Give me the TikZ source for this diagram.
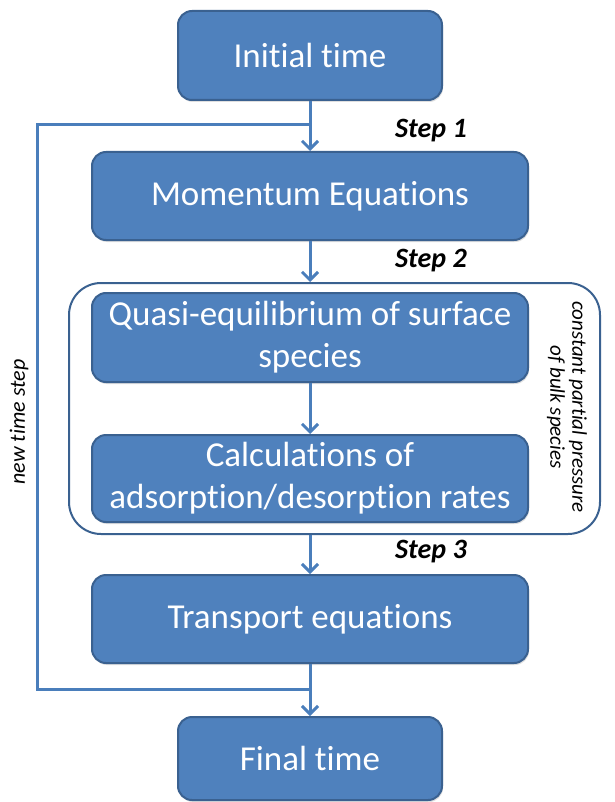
\documentclass[tikz,border=0pt]{standalone}
\usepackage{fontspec}
\setmainfont[Ligatures=CommonOff]{Carlito}
\usetikzlibrary{arrows.meta,shadows}
\definecolor{boxfill}{HTML}{4F81BD}
\definecolor{boxline}{HTML}{3A6190}
\definecolor{wire}{HTML}{4A7EBB}
\tikzset{
  flowbox/.style={draw=boxline, line width=2pt, fill=boxfill, rounded corners=14pt,
    text=white, inner sep=0pt, align=center,
    font=\fontsize{35}{42}\selectfont,
    drop shadow={opacity=0.25, shadow xshift=1pt, shadow yshift=-2pt}},
  groupbox/.style={draw=boxline, line width=2pt, rounded corners=32pt, inner sep=0pt},
  link/.style={draw=wire, line width=3pt},
  flowarrow/.style={link, -{Straight Barb[length=8pt,width=16pt,line width=3pt]}},
  steplabel/.style={font=\fontsize{28}{30}\selectfont\bfseries\itshape, anchor=base west, inner sep=0pt},
  sidenote/.style={font=\fontsize{21}{22}\selectfont\itshape, align=center, inner sep=0pt}
}
\begin{document}
\begin{tikzpicture}[x=1pt, y=-1pt]
  \useasboundingbox (0,0) rectangle (614,802);

  % main flow boxes
  \node[flowbox, minimum width=264pt, minimum height=89pt] (init) at (310,55.5) {Initial time};
  \node[flowbox, minimum width=436pt, minimum height=88pt] (mom) at (310,196) {Momentum Equations};
  \node[groupbox, minimum width=531pt, minimum height=251pt] (group) at (334.5,408.5) {};
  \node[flowbox, minimum width=436pt, minimum height=89pt] (quasi) at (310,337.5) {Quasi-equilibrium of surface\\species};
  \node[flowbox, minimum width=436pt, minimum height=87pt] (calc) at (310,478.5) {Calculations of\\adsorption/desorption rates};
  \node[flowbox, minimum width=436pt, minimum height=88pt] (trans) at (310,619) {Transport equations};
  \node[flowbox, minimum width=264pt, minimum height=83pt] (final) at (310,758.5) {Final time};

  % forward connectors
  \draw[flowarrow] (init.south) -- (mom.north);
  \draw[flowarrow] (mom.south) -- (group.north -| mom.south);
  \draw[flowarrow] (quasi.south) -- (calc.north);
  \draw[flowarrow] (group.south -| trans.north) -- (trans.north);
  \draw[flowarrow] (trans.south) -- (final.north);

  % feedback loop for the next time step
  \coordinate (jb) at (310,689);
  \coordinate (jt) at (310,125);
  \coordinate (loopB) at (37,689);
  \coordinate (loopT) at (37,125);
  \draw[link] (jb) -- (loopB) -- (loopT) -- (jt);

  % labels
  \node[steplabel] (s1) at (395,138) {Step 1};
  \node[steplabel] (s2) at (395,267) {Step 2};
  \node[steplabel] (s3) at (395,558) {Step 3};
  \node[sidenote, rotate=90, font=\fontsize{22}{24}\selectfont\itshape] (nts) at (19,422) {new time step};
  \node[sidenote, rotate=-90] (cpp) at (567,407) {constant partial pressure\\of bulk species};
\end{tikzpicture}
\end{document}
